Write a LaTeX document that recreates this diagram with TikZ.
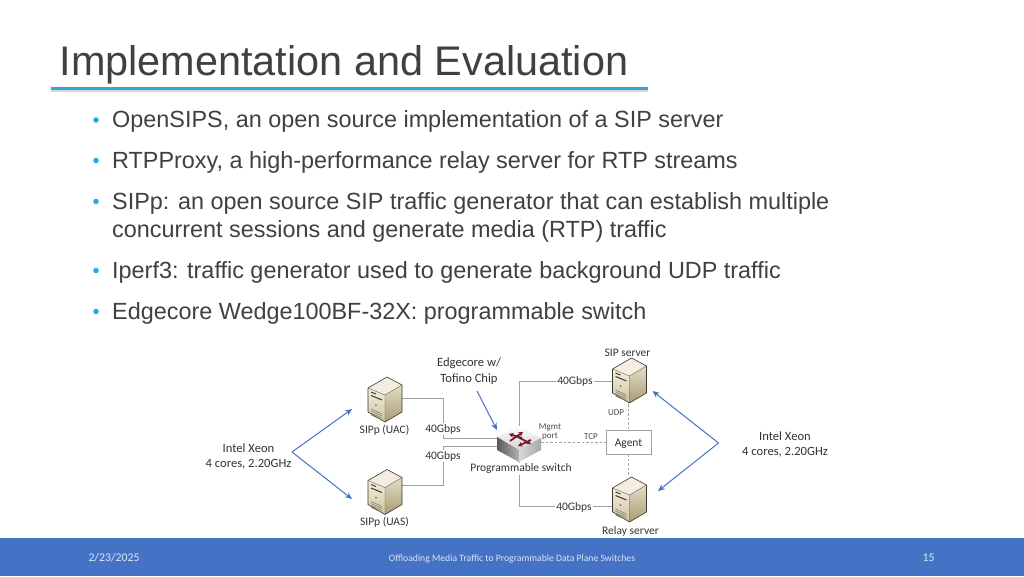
\documentclass[tikz,border=0pt]{standalone}
\usepackage{fontspec}
\setmainfont{Liberation Sans}
\newfontfamily\labfont{Carlito}
\usepackage{xcolor}
\usetikzlibrary{calc,arrows.meta}
\definecolor{titletext}{HTML}{404040}
\definecolor{bodytext}{HTML}{404040}
\definecolor{rulecyan}{HTML}{2FA8D5}
\definecolor{bulletcyan}{HTML}{1CADE4}
\definecolor{footblue}{HTML}{4472C4}
\definecolor{footpale}{HTML}{DCE6F5}
\definecolor{linkgray}{HTML}{A0A0A0}
\definecolor{arrowblue}{HTML}{4472C4}
\definecolor{srvlight}{HTML}{F3EEE0}
\definecolor{srvfront}{HTML}{CFC29E}
\definecolor{srvside}{HTML}{A99B74}
\definecolor{srvdark}{HTML}{3A382F}
\definecolor{swarrow}{HTML}{7A1A28}
\tikzset{
  titlelab/.style={text=titletext, font=\fontsize{41.4}{42}\selectfont, anchor=base west, inner sep=0pt},
  bulletlab/.style={text=bodytext, font=\fontsize{23.4}{28}\selectfont, anchor=base west, inner sep=0pt},
  bulletdot/.style={circle, fill=bulletcyan, inner sep=0pt, minimum size=5.5pt},
  lab/.style={text=black!80, font=\labfont\fontsize{11.5}{14}\selectfont, inner sep=1pt, align=center},
  labb/.style={text=black!80, font=\labfont\fontsize{12.6}{15.5}\selectfont, inner sep=1pt, align=center},
  labs/.style={text=black!70, font=\labfont\fontsize{9}{9.5}\selectfont, inner sep=1pt, align=center},
  labw/.style={lab, fill=white},
  foot/.style={text=footpale, font=\labfont\fontsize{9.7}{12}\selectfont, inner sep=0pt},
  footb/.style={foot, font=\labfont\fontsize{11.8}{12}\selectfont},
  link/.style={draw=linkgray, line width=0.8pt},
  mgmt/.style={draw=linkgray, line width=0.8pt, dash pattern=on 2.5pt off 2pt},
  blue/.style={draw=arrowblue, line width=1pt, -{Stealth[length=7pt,width=6pt]}},
  srv/.style={inner sep=0pt, minimum width=34pt, minimum height=46pt},
  agentbox/.style={draw=linkgray, line width=0.7pt, fill=white, minimum width=45pt, minimum height=24pt, inner sep=0pt, text=black!80, font=\labfont\fontsize{11.5}{14}\selectfont},
  swbox/.style={inner sep=0pt, minimum width=44pt, minimum height=36pt},
  swtip/.style={-{Stealth[length=4.5pt,width=5pt]}, draw=swarrow, line width=1.8pt},
}
% server icon drawn round a node centre
\newcommand{\servericon}[1]{
  \begin{scope}[shift={(#1)}]
    \fill[srvlight] (-17,-12) -- (2,-23) -- (17,-15) -- (0,-5) -- cycle;
    \shade[top color=srvlight, bottom color=srvfront] (-17,-12) -- (0,-5) -- (0,22) -- (-17,12) -- cycle;
    \shade[top color=srvlight!60!srvfront, bottom color=srvside] (0,-5) -- (17,-15) -- (17,12) -- (0,22) -- cycle;
    \draw[srvdark, line width=0.6pt, line join=round] (-17,-12) -- (2,-23) -- (17,-15) -- (17,12) -- (0,22) -- (-17,12) -- cycle;
    \draw[srvdark!80, line width=0.4pt] (-17,-12) -- (0,-5) -- (17,-15) (0,-5) -- (0,22);
    \draw[srvdark, line width=1pt] (-14,-8) -- (-9,-6) (-14,-4.5) -- (-3,0);
    \fill[srvdark!70] (-9,5) circle (1pt);
    \foreach \yy in {10,12,14,16}
      \draw[srvdark!70, line width=0.5pt] (-14,\yy-1) -- (-3,\yy+4);
  \end{scope}
}
\begin{document}
\begin{tikzpicture}[x=1pt,y=-1pt]
  \useasboundingbox (0,0) rectangle (1024,576);
  \fill[white] (0,0) rectangle (1024,576);

  % title
  \node[titlelab] (title) at (59.5,75) {Implementation and Evaluation};
  \fill[black!15] (51,89) rectangle (648,91.5);
  \fill[rulecyan] (51,86.5) rectangle (648,89.5);

  % bullets
  \node[bulletdot] (d1) at (96,120) {};
  \node[bulletlab] (b1) at (112,127) {OpenSIPS, an open source implementation of a SIP server};
  \node[bulletdot] (d2) at (96,160.5) {};
  \node[bulletlab] (b2) at (112,168) {RTPProxy, a high-performance relay server for RTP streams};
  \node[bulletdot] (d3) at (96,201.5) {};
  \node[bulletlab] (b3) at (112,209) {SIPp: an open source SIP traffic generator that can establish multiple};
  \node[bulletlab] (b3b) at (112,237) {concurrent sessions and generate media (RTP) traffic};
  \node[bulletdot] (d4) at (96,270.5) {};
  \node[bulletlab] (b4) at (112,278) {Iperf3: traffic generator used to generate background UDP traffic};
  \node[bulletdot] (d5) at (96,311.5) {};
  \node[bulletlab] (b5) at (112,319) {Edgecore Wedge100BF-32X: programmable switch};

  % machines
  \node[srv] (uac) at (385,400) {};
  \node[srv] (uas) at (385,492.5) {};
  \node[srv] (sip) at (629.5,381) {};
  \node[srv] (relay) at (629.5,500) {};
  \node[swbox] (sw) at (519,444) {};
  \node[agentbox, text depth=0pt, text height=9pt] (agent) at (628.5,442) {\raisebox{0.5pt}{Agent}};
  \coordinate (upin) at (497,438.5);
  \coordinate (lowin) at (497,446);
  \coordinate (uacout) at (402,398.5);
  \coordinate (uasout) at (402,485);
  \coordinate (upel) at (443,398.5);
  \coordinate (lowel) at (443,485);

  % links
  \draw[link] (uacout) -- (upel) -- (upel |- upin) -- (upin);
  \draw[link] (uasout) -- (lowel) -- (lowel |- lowin) -- (lowin);
  \draw[link] (sw.north) |- (sip.west);
  \draw[link] (sw.south) |- ($(relay.west)+(0,6)$);
  \draw[mgmt] (sip.south -| agent.north) -- (agent.north);
  \draw[mgmt] (agent.south) -- (relay.north -| agent.south);
  \draw[mgmt] (sw.east |- agent.west) -- (agent.west);

  \servericon{uac}
  \servericon{uas}
  \servericon{sip}
  \servericon{relay}

  % switch icon
  \shade[top color=white, bottom color=black!18] (497,437) -- (519,426) -- (541,438) -- (519,450) -- cycle;
  \shade[left color=black!65, right color=black!30] (497,437) -- (519,450) -- (519,462) -- (497,450) -- cycle;
  \shade[left color=black!15, right color=black!35] (519,450) -- (541,438) -- (541,450) -- (519,462) -- cycle;
  \draw[swtip] (510,441) -- (523,432);
  \draw[swtip] (522,438) -- (509,434);
  \draw[swtip] (518,437) -- (531,444);
  \draw[swtip] (531,440) -- (518,446);

  % labels
  \node[lab] (sipl) at (627.5,352.5) {SIP server};
  \node[labb] (edge) at (469,371) {Edgecore w/\\Tofino Chip};
  \node[labw] (g1) at (575,381.5) {40Gbps};
  \node[labs] (udp) at (616,413) {UDP};
  \node[lab] (uacl) at (384.5,430.7) {SIPp (UAC)};
  \node[labw] (g2) at (443,429.2) {40Gbps};
  \node[labw] (g3) at (443,456.2) {40Gbps};
  \node[labs] (port) at (550,432) {Mgmt\\port};
  \node[labs, fill=white] (tcp) at (591,437) {TCP};
  \node[labw] (prog) at (521,468.7) {Programmable switch};
  \node[labw] (g4) at (574,507) {40Gbps};
  \node[lab] (uasl) at (384.5,522.2) {SIPp (UAS)};
  \node[lab] (rell) at (630.5,531.7) {Relay server};
  \node[labb] (xeonl) at (248.5,456.2) {Intel Xeon\\4 cores, 2.20GHz};
  \node[labb] (xeonr) at (785,444.2) {Intel Xeon\\4 cores, 2.20GHz};

  % arrows
  \coordinate (lsrc) at (292,452);
  \coordinate (rsrc) at (718.5,443);
  \coordinate (edgeout) at (477,391);
  \coordinate (edgetip) at (497,430);
  \draw[blue] (lsrc) -- (352,409);
  \draw[blue] (lsrc) -- (352,499);
  \draw[blue] (rsrc) -- (652.5,391);
  \draw[blue] (rsrc) -- (658,491);
  \draw[blue] (edgeout) -- (edgetip);

  % footer
  \fill[footblue] (0,538) rectangle (1024,576);
  \node[footb] (date) at (114,558) {2/23/2025};
  \node[foot] (ftitle) at (512,558.5) {Offloading Media Traffic to Programmable Data Plane Switches};
  \node[footb] (num) at (928.5,558) {15};
\end{tikzpicture}
\end{document}
